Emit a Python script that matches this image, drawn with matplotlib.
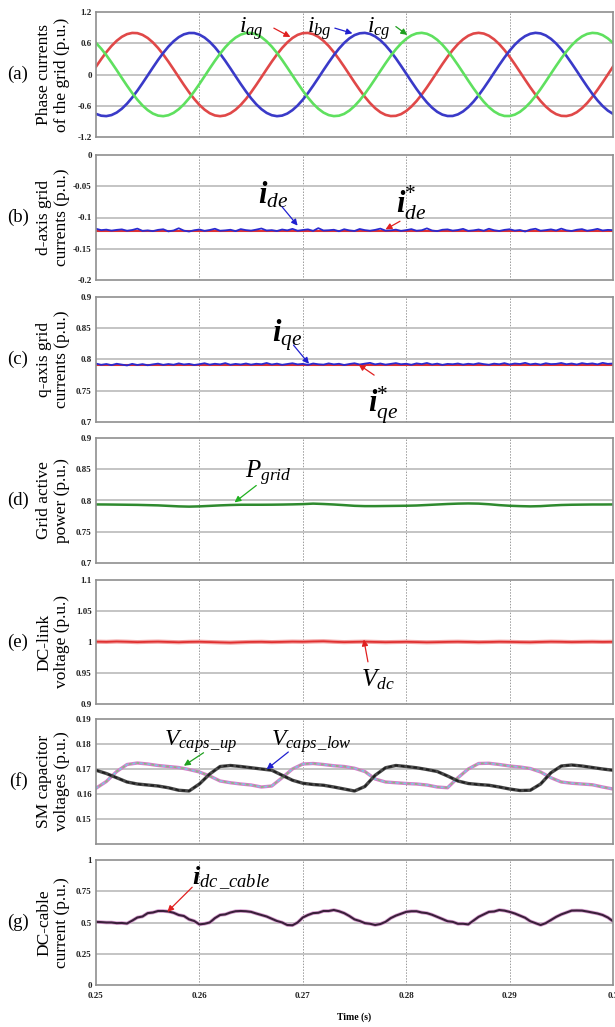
import numpy as np
import matplotlib.pyplot as plt

plt.rcParams['mathtext.fontset'] = 'custom'
plt.rcParams['mathtext.rm'] = 'Liberation Serif'
plt.rcParams['mathtext.it'] = 'Liberation Serif:italic'
plt.rcParams['mathtext.bf'] = 'Liberation Serif:italic:bold'

# ==================================================
# DATA (1 ms / 0.5 ms samples)
# ==================================================
t_1ms = np.linspace(0.25, 0.30, 51)
t_05ms = np.linspace(0.25, 0.30, 101)
t_ref = [0.25, 0.30]

i_ag = [0.150, 0.294, 0.429, 0.548, 0.647, 0.724, 0.775, 0.798, 0.794, 0.761,
        0.701, 0.616, 0.510, 0.385, 0.247, 0.100, -0.050, -0.199, -0.341, -0.470,
        -0.583, -0.675, -0.744, -0.786, -0.800, -0.786, -0.744, -0.675, -0.583, -0.470,
        -0.341, -0.199, -0.050, 0.100, 0.247, 0.385, 0.510, 0.616, 0.701, 0.761,
        0.794, 0.798, 0.775, 0.724, 0.647, 0.548, 0.429, 0.294, 0.150, 0.000,
        -0.150, -0.294, -0.429, -0.548, -0.647, -0.724, -0.775, -0.798, -0.794, -0.761,
        -0.701, -0.616, -0.510, -0.385, -0.247, -0.100, 0.050, 0.199, 0.341, 0.470,
        0.583, 0.675, 0.744, 0.786, 0.800, 0.786, 0.744, 0.675, 0.583, 0.470,
        0.341, 0.199, 0.050, -0.100, -0.247, -0.385, -0.510, -0.616, -0.701, -0.761,
        -0.794, -0.798, -0.775, -0.724, -0.647, -0.548, -0.429, -0.294, -0.150, 0.000,
        0.150]
i_bg = [-0.756, -0.791, -0.799, -0.779, -0.731, -0.657, -0.560, -0.443, -0.310, -0.166,
        -0.017, 0.133, 0.279, 0.414, 0.535, 0.637, 0.717, 0.771, 0.797, 0.796,
        0.766, 0.709, 0.627, 0.523, 0.400, 0.263, 0.117, -0.034, -0.183, -0.325,
        -0.457, -0.572, -0.666, -0.737, -0.782, -0.800, -0.789, -0.750, -0.684, -0.595,
        -0.484, -0.356, -0.215, -0.067, 0.084, 0.231, 0.371, 0.497, 0.606, 0.693,
        0.756, 0.791, 0.799, 0.779, 0.731, 0.657, 0.560, 0.443, 0.310, 0.166,
        0.017, -0.133, -0.279, -0.414, -0.535, -0.637, -0.717, -0.771, -0.797, -0.796,
        -0.766, -0.709, -0.627, -0.523, -0.400, -0.263, -0.117, 0.034, 0.183, 0.325,
        0.457, 0.572, 0.666, 0.737, 0.782, 0.800, 0.789, 0.750, 0.684, 0.595,
        0.484, 0.356, 0.215, 0.067, -0.084, -0.231, -0.371, -0.497, -0.606, -0.693,
        -0.756]
i_cg = [0.606, 0.497, 0.371, 0.231, 0.084, -0.067, -0.215, -0.356, -0.484, -0.595,
        -0.684, -0.750, -0.789, -0.800, -0.782, -0.737, -0.666, -0.572, -0.457, -0.325,
        -0.183, -0.034, 0.117, 0.263, 0.400, 0.523, 0.627, 0.709, 0.766, 0.796,
        0.797, 0.771, 0.717, 0.637, 0.535, 0.414, 0.279, 0.133, -0.017, -0.166,
        -0.310, -0.443, -0.560, -0.657, -0.731, -0.779, -0.799, -0.791, -0.756, -0.693,
        -0.606, -0.497, -0.371, -0.231, -0.084, 0.067, 0.215, 0.356, 0.484, 0.595,
        0.684, 0.750, 0.789, 0.800, 0.782, 0.737, 0.666, 0.572, 0.457, 0.325,
        0.183, 0.034, -0.117, -0.263, -0.400, -0.523, -0.627, -0.709, -0.766, -0.796,
        -0.797, -0.771, -0.717, -0.637, -0.535, -0.414, -0.279, -0.133, 0.017, 0.166,
        0.310, 0.443, 0.560, 0.657, 0.731, 0.779, 0.799, 0.791, 0.756, 0.693,
        0.606]

i_de = [-0.1180, -0.1202, -0.1194, -0.1210, -0.1198, -0.1190, -0.1212, -0.1200, -0.1178, -0.1214,
        -0.1206, -0.1218, -0.1198, -0.1188, -0.1222, -0.1208, -0.1172, -0.1210, -0.1224, -0.1204,
        -0.1192, -0.1214, -0.1200, -0.1180, -0.1212, -0.1206, -0.1196, -0.1218, -0.1186, -0.1202,
        -0.1210, -0.1194, -0.1176, -0.1208, -0.1202, -0.1216, -0.1192, -0.1206, -0.1182, -0.1212,
        -0.1200, -0.1190, -0.1214, -0.1170, -0.1208, -0.1204, -0.1196, -0.1220, -0.1188, -0.1206,
        -0.1216, -0.1184, -0.1202, -0.1212, -0.1198, -0.1178, -0.1210, -0.1206, -0.1194, -0.1214,
        -0.1202, -0.1186, -0.1212, -0.1204, -0.1174, -0.1208, -0.1218, -0.1196, -0.1190, -0.1210,
        -0.1200, -0.1182, -0.1214, -0.1206, -0.1192, -0.1212, -0.1180, -0.1204, -0.1216, -0.1198,
        -0.1188, -0.1210, -0.1200, -0.1224, -0.1194, -0.1180, -0.1212, -0.1202, -0.1190, -0.1208,
        -0.1178, -0.1206, -0.1216, -0.1196, -0.1186, -0.1212, -0.1200, -0.1182, -0.1208, -0.1198,
        -0.1202]
i_de_ref = [-0.1212, -0.1212]

i_qe = [0.7935, 0.7915, 0.7928, 0.7910, 0.7932, 0.7918, 0.7905, 0.7930, 0.7912, 0.7926,
        0.7908, 0.7922, 0.7934, 0.7914, 0.7928, 0.7916, 0.7938, 0.7920, 0.7930, 0.7912,
        0.7925, 0.7940, 0.7918, 0.7932, 0.7922, 0.7942, 0.7916, 0.7930, 0.7920, 0.7936,
        0.7918, 0.7932, 0.7924, 0.7944, 0.7920, 0.7934, 0.7915, 0.7928, 0.7940, 0.7922,
        0.7930, 0.7914, 0.7936, 0.7924, 0.7918, 0.7938, 0.7922, 0.7932, 0.7912, 0.7928,
        0.7940, 0.7920, 0.7934, 0.7946, 0.7922, 0.7936, 0.7918, 0.7930, 0.7942, 0.7924,
        0.7932, 0.7916, 0.7938, 0.7926, 0.7944, 0.7920, 0.7934, 0.7914, 0.7930, 0.7924,
        0.7936, 0.7918, 0.7932, 0.7922, 0.7940, 0.7926, 0.7916, 0.7934, 0.7924, 0.7942,
        0.7920, 0.7936, 0.7928, 0.7946, 0.7922, 0.7934, 0.7918, 0.7940, 0.7926, 0.7930,
        0.7944, 0.7924, 0.7936, 0.7920, 0.7942, 0.7928, 0.7938, 0.7922, 0.7946, 0.7930,
        0.7936]
i_qe_ref = [0.7918, 0.7918]

p_grid = [0.7937, 0.7936, 0.7934, 0.7932, 0.7930, 0.7926, 0.7922, 0.7914, 0.7906, 0.7902,
          0.7906, 0.7914, 0.7922, 0.7928, 0.7932, 0.7932, 0.7932, 0.7933, 0.7935, 0.7938,
          0.7942, 0.7950, 0.7944, 0.7936, 0.7926, 0.7915, 0.7910, 0.7910, 0.7912, 0.7914,
          0.7916, 0.7920, 0.7928, 0.7936, 0.7944, 0.7950, 0.7953, 0.7950, 0.7940, 0.7926,
          0.7916, 0.7910, 0.7906, 0.7910, 0.7920, 0.7928, 0.7932, 0.7934, 0.7936, 0.7936,
          0.7937]

v_dc = [1.0005, 1.0002, 1.0008, 1.0004, 0.9998, 1.0003, 1.0006, 1.0001, 0.9996, 1.0002,
        1.0004, 0.9999, 0.9994, 0.9990, 0.9996, 1.0001, 1.0003, 0.9998, 1.0002, 1.0006,
        1.0004, 1.0009, 1.0012, 1.0004, 0.9998, 1.0002, 1.0005, 1.0001, 0.9997, 1.0000,
        1.0003, 0.9999, 0.9995, 0.9998, 1.0002, 1.0004, 1.0001, 0.9997, 1.0000, 1.0004,
        1.0002, 0.9998, 0.9996, 1.0001, 1.0005, 1.0003, 0.9999, 1.0002, 1.0004, 1.0001,
        1.0003]

v_caps_up = [0.1623, 0.1650, 0.1690, 0.1718, 0.1724, 0.1720, 0.1714, 0.1710, 0.1706, 0.1698,
             0.1688, 0.1672, 0.1652, 0.1645, 0.1640, 0.1636, 0.1628, 0.1632, 0.1665, 0.1700,
             0.1720, 0.1722, 0.1718, 0.1713, 0.1710, 0.1703, 0.1690, 0.1660, 0.1648, 0.1645,
             0.1642, 0.1640, 0.1636, 0.1628, 0.1625, 0.1665, 0.1700, 0.1722, 0.1723, 0.1718,
             0.1712, 0.1708, 0.1702, 0.1688, 0.1665, 0.1648, 0.1643, 0.1640, 0.1637, 0.1628,
             0.1620]
v_caps_low = [0.1695, 0.1682, 0.1665, 0.1648, 0.1640, 0.1636, 0.1632, 0.1625, 0.1615, 0.1612,
              0.1640, 0.1680, 0.1710, 0.1714, 0.1710, 0.1705, 0.1700, 0.1695, 0.1675, 0.1655,
              0.1643, 0.1638, 0.1635, 0.1628, 0.1620, 0.1612, 0.1630, 0.1675, 0.1705, 0.1714,
              0.1710, 0.1705, 0.1698, 0.1690, 0.1672, 0.1652, 0.1642, 0.1638, 0.1635, 0.1628,
              0.1620, 0.1614, 0.1615, 0.1640, 0.1685, 0.1712, 0.1716, 0.1712, 0.1706, 0.1700,
              0.1695]

i_dc_cable = [0.505, 0.503, 0.500, 0.500, 0.495, 0.496, 0.492, 0.515, 0.540, 0.548,
              0.575, 0.580, 0.592, 0.592, 0.588, 0.578, 0.560, 0.552, 0.525, 0.512,
              0.485, 0.490, 0.500, 0.535, 0.560, 0.565, 0.580, 0.590, 0.592, 0.590,
              0.585, 0.572, 0.560, 0.548, 0.530, 0.512, 0.500, 0.480, 0.478, 0.500,
              0.540, 0.560, 0.575, 0.578, 0.592, 0.592, 0.600, 0.590, 0.575, 0.552,
              0.525, 0.512, 0.495, 0.490, 0.480, 0.488, 0.505, 0.535, 0.555, 0.570,
              0.585, 0.590, 0.590, 0.580, 0.575, 0.562, 0.545, 0.528, 0.510, 0.505,
              0.490, 0.490, 0.485, 0.515, 0.545, 0.565, 0.585, 0.588, 0.600, 0.595,
              0.585, 0.572, 0.555, 0.538, 0.510, 0.495, 0.480, 0.495, 0.520, 0.545,
              0.565, 0.580, 0.595, 0.596, 0.595, 0.588, 0.580, 0.572, 0.560, 0.540,
              0.510]

x_ticks = [0.25, 0.26, 0.27, 0.28, 0.29, 0.30]
x_tick_labels = ['0.25', '0.26', '0.27', '0.28', '0.29', '0.3']


# ==================================================
# LAYOUT
# ==================================================
W, H = 615, 1027
fig = plt.figure(figsize=(W / 100, H / 100), dpi=100)

panel_px = [(12, 137), (155, 280), (297, 422), (438, 563),
            (580, 704), (719, 844), (860, 985)]

serif = 'Liberation Serif'


def make_axes(top, bottom):
    return fig.add_axes([96 / W, 1 - bottom / H, 517 / W, (bottom - top) / H])


def style(ax, top, bottom, ylim, yticks, ylabels, ylabel, tag, gridticks=None):
    ax.set_xlim(0.25, 0.30)
    ax.set_ylim(*ylim)
    ax.set_xticks(x_ticks)
    ax.set_yticks(yticks)
    ax.set_yticklabels(ylabels, fontfamily=serif, fontweight='bold',
                       fontsize=6.5, color='#222222')
    ax.set_xticklabels([])
    ax.tick_params(length=0, pad=3)

    for x in x_ticks[1:-1]:
        ax.axvline(x, color='#9a9a9a', lw=0.7, ls=(0, (1.5, 1.5)), zorder=0)
    if gridticks is None:
        gridticks = yticks[1:-1]
    for y in gridticks:
        ax.axhline(y, color='#c4c4c4', lw=1.4, zorder=0)

    for sp in ax.spines.values():
        sp.set_color('#8f8f8f')
        sp.set_linewidth(1.2)

    yc = 1 - (top + bottom) / 2 / H
    fig.text(53 / W, yc, ylabel, rotation=90, ha='center', va='center',
             fontfamily=serif, fontsize=12.5, linespacing=1.1,
             multialignment='center')
    fig.text(18 / W, yc, tag, ha='center', va='center',
             fontfamily=serif, fontsize=13.5)


def arrow(ax, tail, head, color):
    ax.annotate('', xy=head, xytext=tail,
                arrowprops=dict(arrowstyle='-|>', color=color, lw=0.9,
                                mutation_scale=9, shrinkA=0, shrinkB=0))


# (a) phase currents
ax = make_axes(*panel_px[0])
ax.plot(t_05ms, i_ag, color='#e04848', lw=1.9)
ax.plot(t_05ms, i_bg, color='#3a3ac8', lw=1.9)
ax.plot(t_05ms, i_cg, color='#5fe05f', lw=1.9)
style(ax, *panel_px[0], (-1.2, 1.2), [-1.2, -0.6, 0, 0.6, 1.2],
      ['-1.2', '-0.6', '0', '0.6', '1.2'],
      'Phase currents\nof the grid (p.u.)', '(a)')
ax.text(0.2638, 0.80, r'$i_{ag}$', fontsize=17)
arrow(ax, (0.2672, 0.89), (0.2688, 0.72), '#e02020')
ax.text(0.2704, 0.80, r'$i_{bg}$', fontsize=17)
arrow(ax, (0.2731, 0.89), (0.2748, 0.79), '#2020d0')
ax.text(0.2762, 0.80, r'$i_{cg}$', fontsize=17)
arrow(ax, (0.2790, 0.92), (0.2801, 0.76), '#20a020')

# (b) d-axis currents
ax = make_axes(*panel_px[1])
ax.plot(t_ref, i_de_ref, color='#e03030', lw=1.5)
ax.plot(t_05ms, i_de, color='#2a2ad0', lw=1.3)
style(ax, *panel_px[1], (-0.2, 0), [-0.2, -0.15, -0.1, -0.05, 0],
      ['-0.2', '-0.15', '-0.1', '-0.05', '0'],
      'd-axis grid\ncurrents (p.u.)', '(b)')
ax.text(0.2657, -0.078, r'$\mathbf{i}_{de}$', fontsize=22)
arrow(ax, (0.2680, -0.083), (0.2695, -0.113), '#2020d0')
ax.text(0.2790, -0.092, r'$\mathbf{i}_{de}^{*}$', fontsize=22)
arrow(ax, (0.2794, -0.106), (0.2780, -0.119), '#e02020')

# (c) q-axis currents
ax = make_axes(*panel_px[2])
ax.plot(t_ref, i_qe_ref, color='#e03030', lw=1.5)
ax.plot(t_05ms, i_qe, color='#2a2ad0', lw=1.3)
style(ax, *panel_px[2], (0.7, 0.9), [0.7, 0.75, 0.8, 0.85, 0.9],
      ['0.7', '0.75', '0.8', '0.85', '0.9'],
      'q-axis grid\ncurrents (p.u.)', '(c)')
ax.text(0.2670, 0.829, r'$\mathbf{i}_{qe}$', fontsize=22)
arrow(ax, (0.2691, 0.823), (0.2706, 0.793), '#2020d0')
ax.text(0.2763, 0.716, r'$\mathbf{i}_{qe}^{*}$', fontsize=22)
arrow(ax, (0.2769, 0.775), (0.2754, 0.792), '#e02020')

# (d) grid active power
ax = make_axes(*panel_px[3])
ax.plot(t_1ms, p_grid, color='#2f8a2f', lw=1.8)
style(ax, *panel_px[3], (0.7, 0.9), [0.7, 0.75, 0.8, 0.85, 0.9],
      ['0.7', '0.75', '0.8', '0.85', '0.9'],
      'Grid active\npower (p.u.)', '(d)')
ax.text(0.2644, 0.836, r'$P_{grid}$', fontsize=18)
arrow(ax, (0.2655, 0.824), (0.2634, 0.797), '#20b020')

# (e) DC-link voltage
ax = make_axes(*panel_px[4])
ax.plot(t_1ms, v_dc, color='#f2a0a0', lw=3.0)
ax.plot(t_1ms, v_dc, color='#e03030', lw=1.3)
style(ax, *panel_px[4], (0.9, 1.1), [0.9, 0.95, 1.0, 1.05, 1.1],
      ['0.9', '0.95', '1', '1.05', '1.1'],
      'DC-link\nvoltage (p.u.)', '(e)')
ax.text(0.2756, 0.928, r'$V_{dc}$', fontsize=18)
arrow(ax, (0.2763, 0.968), (0.2759, 1.004), '#e02020')

# (f) SM capacitor voltages
ax = make_axes(*panel_px[5])
ax.plot(t_1ms, v_caps_up, color='#d67ec8', lw=2.4)
ax.plot(t_1ms, v_caps_up, color='#78d0e0', lw=1.2, ls=(0, (1.5, 3)))
ax.plot(t_1ms, v_caps_up, color='#80c080', lw=1.2, ls=(2.2, (1.5, 3)))
ax.plot(t_1ms, v_caps_low, color='#4a4a4a', lw=2.4)
ax.plot(t_1ms, v_caps_low, color='#1e1e1e', lw=1.3, ls=(0, (2, 1.5)))
style(ax, *panel_px[5], (0.14, 0.19), [0.15, 0.16, 0.17, 0.18, 0.19],
      ['0.15', '0.16', '0.17', '0.18', '0.19'],
      'SM capacitor\nvoltages (p.u.)', '(f)',
      gridticks=[0.15, 0.16, 0.17, 0.18])
ax.text(0.2566, 0.1795, r'$V_{caps\,\_up}$', fontsize=17)
arrow(ax, (0.2604, 0.1765), (0.2585, 0.1713), '#20a020')
ax.text(0.2669, 0.1795, r'$V_{caps\,\_low}$', fontsize=17)
arrow(ax, (0.2686, 0.1768), (0.2665, 0.1699), '#2020d0')

# (g) DC-cable current
ax = make_axes(*panel_px[6])
ax.plot(t_05ms, i_dc_cable, color='#d8a0d0', lw=2.6)
ax.plot(t_05ms, i_dc_cable, color='#3a1f3a', lw=1.5)
style(ax, *panel_px[6], (0, 1), [0, 0.25, 0.5, 0.75, 1],
      ['0', '0.25', '0.5', '0.75', '1'],
      'DC-cable\ncurrent (p.u.)', '(g)')
ax.text(0.2593, 0.805, r'$\mathbf{i}_{dc\,\_cable}$', fontsize=19)
arrow(ax, (0.2593, 0.782), (0.2569, 0.585), '#e02020')
ax.set_xticklabels(x_tick_labels, fontfamily=serif, fontweight='bold',
                   fontsize=6.5, color='#222222')
ax.tick_params(axis='x', pad=5)
ax.set_xlabel('Time (s)', fontfamily=serif, fontweight='bold',
              fontsize=7, labelpad=9)

plt.savefig('out.png', dpi=100)
